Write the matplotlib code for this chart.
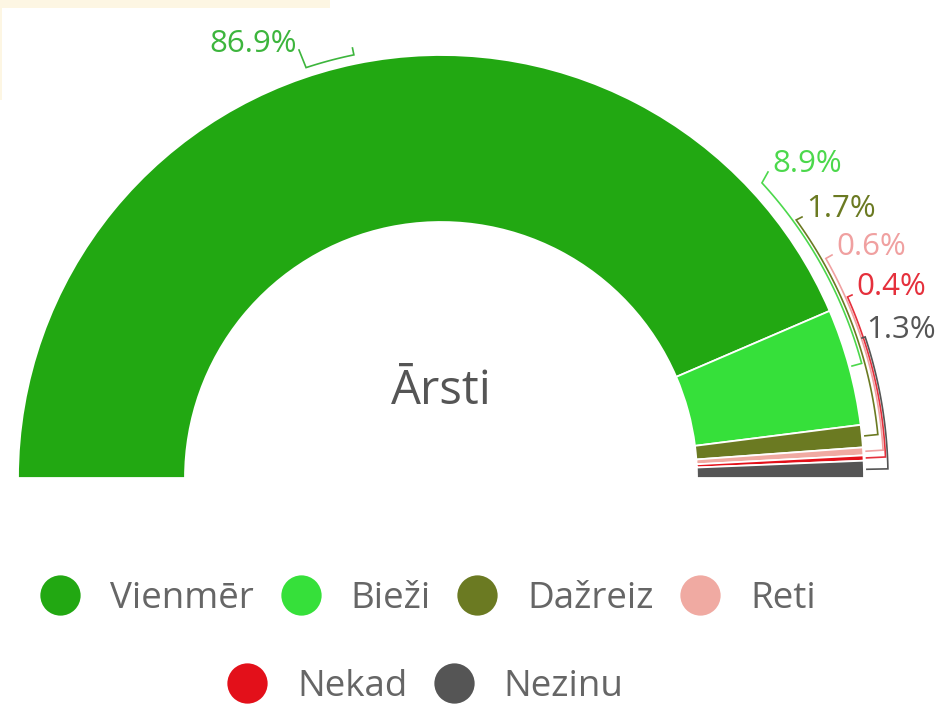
import numpy as np
import matplotlib.pyplot as plt
from matplotlib.patches import Rectangle
from matplotlib.lines import Line2D

# Dati
categories = ["Vienmēr", "Bieži", "Dažreiz", "Reti", "Nekad", "Nezinu"]
values = [86.9, 8.9, 1.7, 0.6, 0.4, 1.3]
pct_labels = ["86.9%", "8.9%", "1.7%", "0.6%", "0.4%", "1.3%"]
slice_colors = ["#22a812", "#36e03a", "#6b7a22", "#f0aaa2", "#e3101a", "#555555"]
text_colors = ["#3db53d", "#4cd84c", "#6b7a22", "#f0a0a0", "#e5303c", "#555555"]
center_title = "Ārsti"

plt.rcParams['font.family'] = ['Open Sans', 'DejaVu Sans']

W, H = 943, 704
CX, CY = 441, H - 478
R_OUT, R_IN = 423, 256

# izkārtojums etiķetēm (pikseļi, y uz leju)
lab_xy = [(297, 52), (772, 172), (806, 217), (836, 255), (856, 295), (866, 338)]
lab_ha = ["right", "left", "left", "left", "left", "left"]
br_start = [108.2, 42.6, 36.0, 29.7, 24.0, 18.4]
br_rad = [432, 436, 439, 443, 445, 447]


def polar(r, a):
    return CX + r * np.cos(np.radians(a)), CY + r * np.sin(np.radians(a))


fig = plt.figure(figsize=(W / 100, H / 100), dpi=100)
ax = fig.add_axes([0, 0, 1, 1])

# puse no apļa - otra puse ir neredzama
wedges, _ = ax.pie(values + [sum(values)], colors=slice_colors + ["white"],
                   startangle=180, counterclock=False, radius=R_OUT, center=(CX, CY),
                   wedgeprops=dict(width=R_OUT - R_IN, edgecolor="white", linewidth=1.3))
wedges[-1].set_visible(False)

# etiķetes ar iekavām
total = 2 * sum(values)
cum = 0
for i, v in enumerate(values):
    mid = 180 - (cum + v / 2) / total * 360
    cum += v
    col = text_colors[i]
    a = np.linspace(br_start[i], mid, 40)
    xs, ys = polar(br_rad[i], a)
    xs, ys = list(xs), list(ys)
    if i == 0:
        tx, ty = polar(br_rad[i] + 7, mid)
    else:
        tx, ty = polar(R_OUT + 3, mid)
    xs.append(tx)
    ys.append(ty)
    lx, ly = lab_xy[i]
    if i == 0:
        xs.insert(0, lx + 2)
        ys.insert(0, H - ly + 2)
    else:
        xs.insert(0, lx - 4)
        ys.insert(0, H - ly)
    ax.plot(xs, ys, color=col, lw=1.2, solid_joinstyle="miter")
    ax.text(lx, H - ly, pct_labels[i], color=col, fontsize=22.5, ha=lab_ha[i], va="baseline")

ax.text(CX, H - 391, center_title, fontsize=34, color="#555555", ha="center", va="center")

# fona josla augšējā kreisajā stūrī
ax.add_patch(Rectangle((0, H - 8), 330, 8, color="#fdf6e3", lw=0))
ax.add_patch(Rectangle((0, H - 100), 2, 100, color="#fdf6e3", lw=0))

ax.set_xlim(0, W)
ax.set_ylim(0, H)
ax.set_aspect("equal")
ax.axis("off")

# leģenda divās rindās
handles = [Line2D([], [], marker="o", ls="none", markersize=29, color=c, markeredgewidth=0)
           for c in slice_colors]
kw = dict(loc="center", frameon=False, fontsize=26.5, handlelength=1.0, handletextpad=0.86,
          columnspacing=0.76, borderpad=0, labelcolor="#666666")
leg1 = fig.legend(handles[:4], categories[:4], ncol=4, bbox_to_anchor=(429 / W, 1 - 599 / H), **kw)
leg2 = fig.legend(handles[4:], categories[4:], ncol=2, bbox_to_anchor=(426 / W, 1 - 687 / H), **kw)

fig.savefig("out.png", dpi=100)
